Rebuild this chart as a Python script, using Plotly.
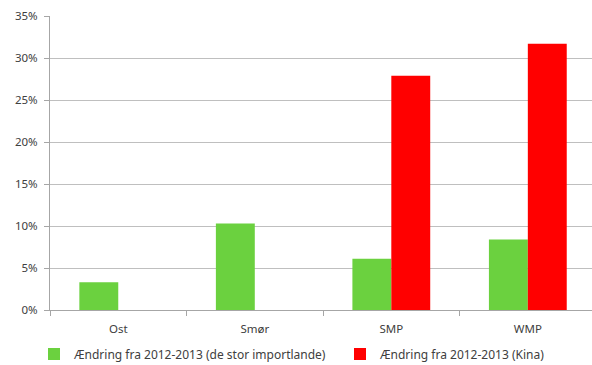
import plotly.graph_objects as go

categories = ["Ost", "Smør", "SMP", "WMP"]
series_names = ["Ændring fra 2012-2013 (de stor importlande)", "Ændring fra 2012-2013 (Kina)"]
import_countries = [0.033, 0.103, 0.061, 0.084]
china = [None, None, 0.279, 0.317]
tick_vals = [0, 0.05, 0.10, 0.15, 0.20, 0.25, 0.30, 0.35]
tick_text = ["0%", "5%", "10%", "15%", "20%", "25%", "30%", "35%"]

font_family = "'Noto Sans', 'Liberation Sans', sans-serif"
text_color = "#404040"

fig = go.Figure()
fig.add_trace(go.Bar(x=categories, y=import_countries, name=series_names[0],
                     marker=dict(color="#6BD13F", line=dict(width=0)), legend="legend"))
fig.add_trace(go.Bar(x=categories, y=china, name=series_names[1],
                     marker=dict(color="#FF0000", line=dict(width=0)), legend="legend2"))

legend_common = dict(orientation="h", xref="container", yref="container",
                     xanchor="left", yanchor="middle", y=1 - 354 / 365,
                     font=dict(size=12, color=text_color), itemwidth=30,
                     bgcolor="rgba(0,0,0,0)")

fig.update_layout(
    width=592, height=365,
    margin=dict(l=50, r=0, t=16, b=55, autoexpand=False),
    plot_bgcolor="white", paper_bgcolor="white",
    barmode="group", bargap=0.43, bargroupgap=0,
    font=dict(family=font_family, size=11.5, color=text_color),
    showlegend=True,
    legend=dict(x=34 / 592, **legend_common),
    legend2=dict(x=340 / 592, **legend_common),
    xaxis=dict(range=[-0.5, 3.47], showline=True, linecolor="#A6A6A6", linewidth=1,
               ticks="outside", tickson="boundaries", ticklen=5, tickcolor="#A6A6A6",
               showgrid=False, ticklabelstandoff=8, fixedrange=True),
    yaxis=dict(range=[0, 0.35], tickvals=tick_vals, ticktext=tick_text,
               showline=True, linecolor="#A6A6A6", linewidth=1,
               ticks="outside", ticklen=5, tickcolor="#A6A6A6",
               showgrid=True, gridcolor="#BFBFBF", gridwidth=1,
               zeroline=False, ticklabelstandoff=4, fixedrange=True),
)

fig.write_html("out.html")
